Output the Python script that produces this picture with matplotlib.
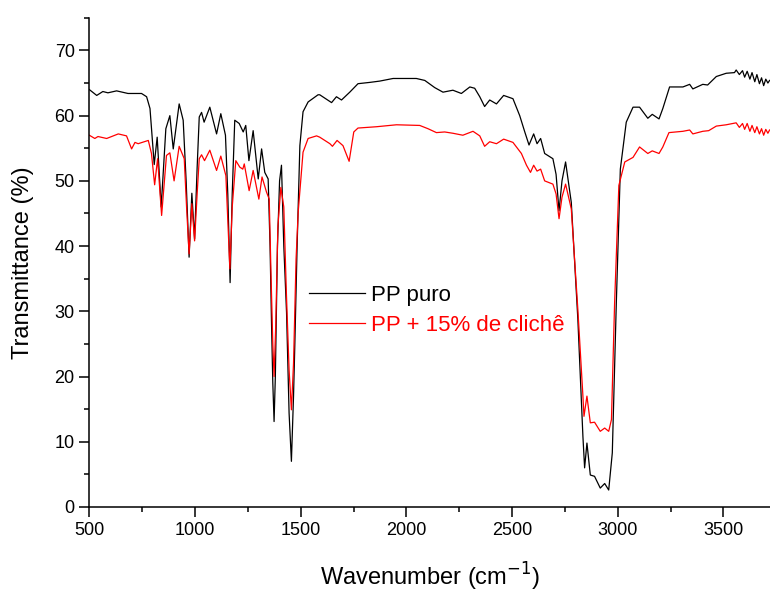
import matplotlib

matplotlib.use("Agg")
import matplotlib.pyplot as plt
from matplotlib.ticker import MultipleLocator

plt.rcParams["font.family"] = ["Liberation Sans", "DejaVu Sans"]

# PP puro (black)
puro_wn = [500, 535, 564, 588, 629, 683, 747, 771, 787, 807, 821, 840, 862, 881, 897,
           925, 944, 958, 972, 985, 998, 1010, 1020, 1031, 1043, 1070, 1102, 1122, 1144,
           1155, 1166, 1176, 1188, 1209, 1228, 1240, 1255, 1275, 1299, 1315, 1330, 1346,
           1355, 1362, 1368, 1374, 1380, 1390, 1400, 1409, 1420, 1433, 1445, 1456, 1466,
           1472, 1483, 1496, 1511, 1535, 1582, 1590, 1646, 1669, 1693, 1732, 1771, 1827,
           1874, 1937, 2047, 2087, 2134, 2173, 2220, 2260, 2300, 2323, 2347, 2370, 2394,
           2426, 2460, 2504, 2536, 2560, 2580, 2602, 2618, 2635, 2654, 2693, 2708, 2722,
           2736, 2753, 2780, 2811, 2835, 2843, 2854, 2870, 2890, 2917, 2938, 2957, 2974,
           2993, 3012, 3040, 3072, 3103, 3142, 3163, 3195, 3213, 3245, 3308, 3340, 3355,
           3402, 3425, 3466, 3513, 3552, 3560, 3575, 3590, 3600, 3612, 3625, 3635, 3648,
           3658, 3670, 3680, 3690, 3700, 3710, 3718]
puro_t = [64.0, 63.1, 63.7, 63.5, 63.8, 63.4, 63.4, 62.9, 61.1, 52.5, 56.7, 46.0, 58.0, 60.0, 54.9,
          61.8, 59.3, 50.0, 38.3, 48.1, 41.1, 52.0, 59.8, 60.5, 59.0, 61.3, 57.2, 60.3, 57.0,
          48.0, 34.4, 48.0, 59.3, 58.8, 57.5, 58.5, 53.1, 57.7, 50.3, 54.9, 51.3, 50.3,
          40.0, 28.0, 19.0, 13.1, 20.0, 40.0, 50.0, 52.4, 40.0, 29.8, 14.4, 7.0, 17.0,
          24.7, 40.0, 55.4, 60.6, 62.1, 63.2, 63.2, 62.0, 62.9, 62.4, 63.6, 64.9, 65.1,
          65.3, 65.7, 65.7, 65.4, 64.3, 63.6, 63.9, 63.4, 64.4, 64.2, 62.9, 61.4, 62.4,
          61.8, 63.1, 62.6, 60.0, 57.5, 55.5, 57.2, 55.7, 56.5, 54.2, 53.4, 51.0, 45.4,
          50.0, 52.9, 46.7, 28.8, 10.8, 6.0, 9.8, 4.9, 4.7, 2.9, 3.6, 2.6, 8.3,
          31.3, 51.8, 59.0, 61.3, 61.3, 59.6, 60.2, 59.5, 61.1, 64.4, 64.4, 64.8, 64.1,
          64.8, 64.7, 66.0, 66.5, 66.6, 67.0, 66.3, 66.9, 65.9, 66.8, 65.6, 66.6, 65.2,
          66.3, 64.9, 65.8, 64.6, 65.6, 65.0, 65.4]

# PP + 15% de cliche (red)
cliche_wn = [500, 526, 541, 582, 637, 676, 700, 716, 731, 779, 794, 809, 823, 842, 865,
             881, 901, 925, 949, 960, 972, 985, 998, 1010, 1020, 1031, 1045, 1070, 1102,
             1122, 1146, 1155, 1165, 1176, 1193, 1212, 1226, 1233, 1256, 1275, 1302, 1317,
             1338, 1351, 1360, 1368, 1374, 1382, 1392, 1406, 1420, 1432, 1445, 1456, 1466,
             1478, 1488, 1511, 1535, 1575, 1590, 1638, 1650, 1672, 1700, 1729, 1751, 1771,
             1858, 1953, 2063, 2102, 2142, 2181, 2220, 2267, 2315, 2347, 2370, 2394, 2426,
             2460, 2504, 2544, 2568, 2587, 2602, 2618, 2635, 2654, 2693, 2708, 2722, 2736,
             2753, 2780, 2811, 2835, 2840, 2854, 2870, 2890, 2917, 2938, 2957, 2970, 2985,
             3005, 3033, 3072, 3103, 3142, 3163, 3195, 3213, 3242, 3308, 3340, 3355, 3402,
             3430, 3466, 3513, 3560, 3575, 3590, 3600, 3612, 3625, 3635, 3648, 3658, 3670,
             3680, 3690, 3700, 3710, 3718]
cliche_t = [57.0, 56.5, 56.8, 56.5, 57.2, 56.9, 54.9, 55.9, 55.7, 56.2, 54.2, 49.4, 53.4, 44.7, 53.9,
            54.3, 50.0, 55.3, 53.4, 46.0, 38.8, 46.5, 40.8, 48.0, 53.4, 54.0, 53.1, 54.7, 51.6,
            53.8, 50.8, 44.0, 36.5, 46.0, 53.1, 52.1, 51.8, 52.6, 48.5, 51.6, 47.2, 50.6,
            48.3, 47.2, 35.0, 25.0, 20.0, 28.0, 43.0, 49.0, 46.0, 33.0, 21.0, 14.9, 22.0,
            38.0, 45.2, 54.4, 56.5, 56.9, 56.7, 55.7, 55.3, 56.2, 55.4, 53.0, 57.5, 58.1,
            58.3, 58.6, 58.5, 58.0, 57.4, 57.5, 57.3, 57.0, 57.6, 56.9, 55.3, 56.0, 55.7,
            56.4, 55.9, 54.2, 52.4, 51.3, 52.4, 51.5, 51.8, 50.0, 49.5, 48.0, 44.2, 47.5,
            49.5, 45.7, 30.3, 17.0, 13.9, 17.0, 12.9, 13.0, 11.6, 12.1, 11.6, 13.4, 31.4,
            49.3, 52.9, 53.6, 55.2, 54.2, 54.6, 54.2, 55.2, 57.4, 57.6, 57.8, 57.2, 57.6,
            57.7, 58.4, 58.6, 58.9, 58.2, 58.8, 57.9, 58.8, 57.6, 58.5, 57.4, 58.3, 57.2,
            58.0, 57.0, 57.9, 57.3, 57.8]

fig = plt.figure(figsize=(7.7, 5.94), dpi=100)
ax = fig.add_axes([0.116, 0.1465, 0.884, 0.8235])

ax.plot(puro_wn, puro_t, color="black", lw=0.9, label="PP puro")
ax.plot(cliche_wn, cliche_t, color="red", lw=0.9, label="PP + 15% de clichê")

ax.set_xlim(500, 3720)
ax.set_ylim(0, 75)
ax.xaxis.set_major_locator(MultipleLocator(500))
ax.xaxis.set_minor_locator(MultipleLocator(250))
ax.yaxis.set_major_locator(MultipleLocator(10))
ax.yaxis.set_minor_locator(MultipleLocator(5))

# only left and bottom axes like the original
ax.spines["top"].set_visible(False)
ax.spines["right"].set_visible(False)
ax.spines["left"].set_linewidth(1.1)
ax.spines["bottom"].set_linewidth(1.1)
ax.tick_params(which="major", direction="out", length=7, width=1.1, labelsize=13)
ax.tick_params(which="minor", direction="out", length=3.6, width=1.1)

ax.set_xlabel("Wavenumber (cm$^{-1}$)", fontsize=17, labelpad=16)
ax.set_ylabel("Transmittance (%)", fontsize=17)
ax.yaxis.set_label_coords(-0.082, 0.5)

ax.legend(loc="upper left", bbox_to_anchor=(0.3227, 0.454), frameon=False, fontsize=16,
          handlelength=2.5, handletextpad=0.3, labelspacing=0.4, labelcolor="linecolor",
          borderaxespad=0, borderpad=0)

fig.savefig("out.png", dpi=100)
